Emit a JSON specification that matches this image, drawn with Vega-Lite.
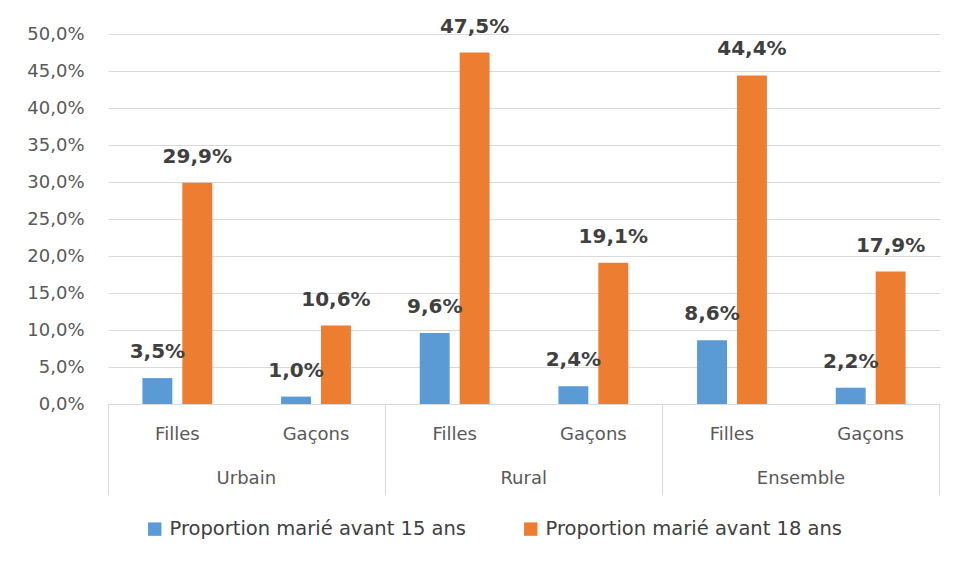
{
  "$schema": "https://vega.github.io/schema/vega-lite/v6.json",
  "width": 832,
  "height": 370,
  "autosize": "none",
  "padding": {"left": 108, "top": 34, "right": 17, "bottom": 158},
  "background": "white",
  "config": {
    "font": "DejaVu Sans",
    "view": {"stroke": null}
  },
  "data": {
    "values": [
      {"cat": "Urbain|Filles", "series": "Proportion marié avant 15 ans", "value": 3.5},
      {"cat": "Urbain|Filles", "series": "Proportion marié avant 18 ans", "value": 29.9},
      {"cat": "Urbain|Gaçons", "series": "Proportion marié avant 15 ans", "value": 1.0},
      {"cat": "Urbain|Gaçons", "series": "Proportion marié avant 18 ans", "value": 10.6},
      {"cat": "Rural|Filles", "series": "Proportion marié avant 15 ans", "value": 9.6},
      {"cat": "Rural|Filles", "series": "Proportion marié avant 18 ans", "value": 47.5},
      {"cat": "Rural|Gaçons", "series": "Proportion marié avant 15 ans", "value": 2.4},
      {"cat": "Rural|Gaçons", "series": "Proportion marié avant 18 ans", "value": 19.1},
      {"cat": "Ensemble|Filles", "series": "Proportion marié avant 15 ans", "value": 8.6},
      {"cat": "Ensemble|Filles", "series": "Proportion marié avant 18 ans", "value": 44.4},
      {"cat": "Ensemble|Gaçons", "series": "Proportion marié avant 15 ans", "value": 2.2},
      {"cat": "Ensemble|Gaçons", "series": "Proportion marié avant 18 ans", "value": 17.9}
    ]
  },
  "transform": [
    {"calculate": "replace(format(datum.value, '.1f'), '.', ',') + '%'", "as": "label"}
  ],
  "resolve": {"axis": {"x": "independent"}},
  "layer": [
    {
      "mark": {"type": "bar"},
      "encoding": {
        "x": {
          "field": "cat", "type": "nominal",
          "sort": ["Urbain|Filles", "Urbain|Gaçons", "Rural|Filles", "Rural|Gaçons", "Ensemble|Filles", "Ensemble|Gaçons"],
          "scale": {"paddingInner": 0, "paddingOuter": 0},
          "axis": {
            "orient": "bottom", "title": null, "labelAngle": 0, "ticks": false, "domain": true, "domainColor": "#d9d9d9", "domainWidth": 1,
            "labelExpr": "split(datum.value, '|')[1]", "labelFontSize": 18, "labelColor": "#595959",
            "labelPadding": 21, "labelBaseline": "top", "grid": false
          }
        },
        "xOffset": {
          "field": "series", "type": "nominal",
          "scale": {"paddingInner": 0.25, "paddingOuter": 0.8625}
        },
        "y": {
          "field": "value", "type": "quantitative",
          "scale": {"domain": [0, 50]},
          "axis": {
            "title": null, "values": [0, 5, 10, 15, 20, 25, 30, 35, 40, 45, 50], "labelOverlap": false,
            "labelExpr": "replace(format(datum.value, '.1f'), '.', ',') + '%'",
            "domain": false, "ticks": false, "gridColor": "#d9d9d9", "gridWidth": 1,
            "labelFontSize": 18, "labelColor": "#595959", "labelPadding": 24
          }
        },
        "color": {
          "field": "series", "type": "nominal",
          "scale": {"range": ["#5B9BD5", "#ED7D31"]},
          "legend": {
            "title": null, "orient": "none", "direction": "horizontal", "legendX": 37, "legendY": 485,
            "symbolType": "square", "symbolSize": 180, "symbolStrokeWidth": 0, "labelLimit": 500,
            "labelFontSize": 19.5, "labelColor": "#404040", "labelOffset": 5, "columnPadding": 54
          }
        }
      }
    },
    {
      "mark": {"type": "text", "baseline": "middle", "dy": -26, "fontSize": 20, "fontWeight": "bold", "color": "#404040"},
      "encoding": {
        "x": {
          "field": "cat", "type": "nominal",
          "sort": ["Urbain|Filles", "Urbain|Gaçons", "Rural|Filles", "Rural|Gaçons", "Ensemble|Filles", "Ensemble|Gaçons"],
          "axis": {
            "orient": "bottom", "title": null, "labelAngle": 0, "domain": false, "grid": false, "bandPosition": 1, "tickExtra": true,
            "ticks": true, "tickSize": 91, "tickWidth": 1,
            "tickColor": {"condition": {"test": "isString(datum.value) && test(/Filles/, datum.value)", "value": "transparent"}, "value": "#d9d9d9"},
            "labelExpr": "isString(datum.value) && test(/Filles/, datum.value) ? split(datum.value, '|')[0] : ''",
            "labelOffset": 69, "labelFontSize": 18, "labelColor": "#595959", "labelPadding": -26, "labelBaseline": "top"
          }
        },
        "xOffset": {"field": "series", "type": "nominal"},
        "y": {
          "field": "value", "type": "quantitative",
          "axis": {
            "title": null, "values": [0, 5, 10, 15, 20, 25, 30, 35, 40, 45, 50], "labelOverlap": false,
            "labelExpr": "replace(format(datum.value, '.1f'), '.', ',') + '%'",
            "domain": false, "ticks": false, "gridColor": "#d9d9d9", "gridWidth": 1,
            "labelFontSize": 18, "labelColor": "#595959", "labelPadding": 24
          }
        },
        "text": {"field": "label", "type": "nominal"}
      }
    }
  ]
}
